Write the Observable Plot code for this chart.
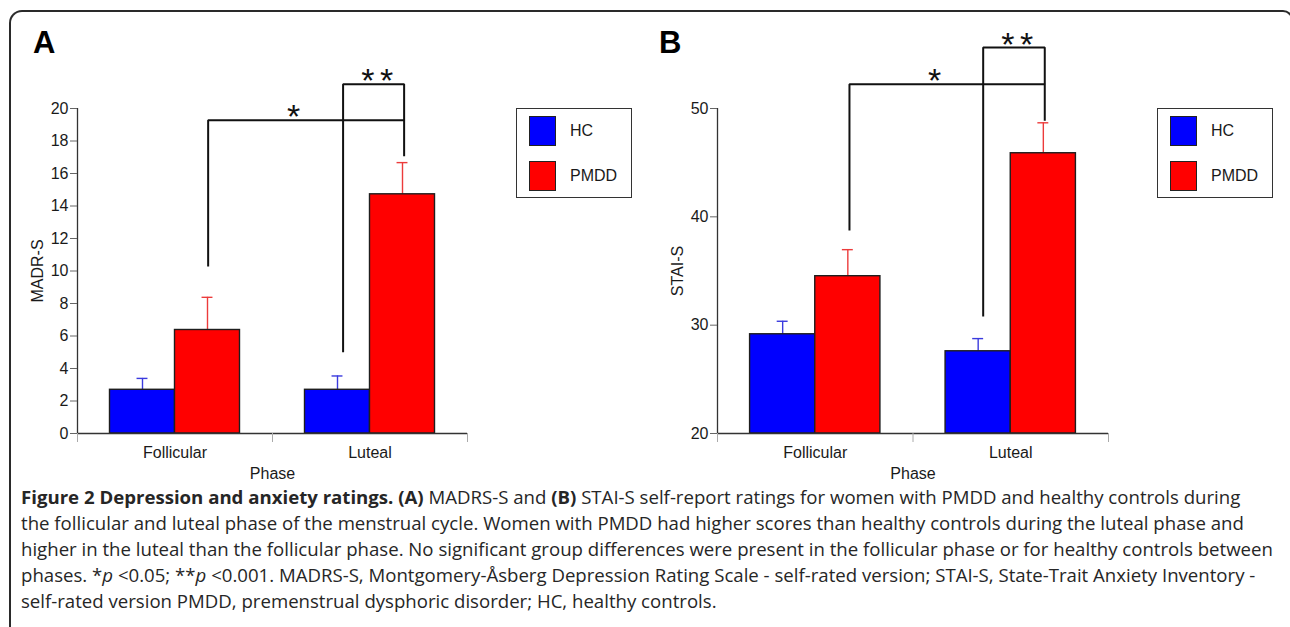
<!DOCTYPE html>
<html>
<head>
<meta charset="utf-8">
<script src="https://cdn.jsdelivr.net/npm/d3@7"></script>
<script src="https://cdn.jsdelivr.net/npm/@observablehq/plot@0.6"></script>
<style>
  html, body { margin: 0; padding: 0; background: #fff; }
  body { width: 1290px; height: 627px; overflow: hidden; position: relative; font-family: "Liberation Sans", Arial, sans-serif; color: #1a1a1a; }
  #frame { position: absolute; left: 9px; top: 10px; width: 1284px; height: 900px; border-left: 2px solid #2a2a2a; border-top: 2px solid #2a2a2a; border-right: 2px solid #2a2a2a; border-top-left-radius: 13px; border-top-right-radius: 10px; box-sizing: border-box; }
  .panel { position: absolute; top: 0; }
  .letter { position: absolute; font: bold 31px/1 "Liberation Sans", Arial, sans-serif; color: #000; }
  .legend { position: absolute; width: 116px; height: 90px; border: 1.5px solid #333; box-sizing: border-box; background: #fff; }
  .sw { position: absolute; width: 27px; height: 30px; border: 1.3px solid #222; box-sizing: border-box; }
  .lt { position: absolute; font: 16px/1 "Liberation Sans", Arial, sans-serif; color: #1a1a1a; }
  #caption { position: absolute; left: 21px; top: 484px; font-family: "Open Sans", sans-serif; font-size: 17px; line-height: 26px; color: #262626; white-space: nowrap; }
  #caption b { font-weight: 700; }
</style>
</head>
<body>
<div id="frame"></div>
<div class="letter" style="left:33px; top:27px;">A</div>
<div class="letter" style="left:659px; top:27px;">B</div>
<div id="panelA" class="panel" style="left:0px;"></div>
<div id="panelB" class="panel" style="left:640px;"></div>
<div id="legendA"></div>
<div id="legendB"></div>
<div id="caption"></div>
<script>
// ---------- data ----------
const phases = ["Follicular", "Luteal"];
const groups = ["HC", "PMDD"];
const groupColors = ["#0000ff", "#ff0000"];
const errColors = ["#3a3ade", "#ec3b3b"];

// Panel A: MADRS-S
const madrsHC = [2.69, 2.69];
const madrsHCErr = [0.70, 0.85];
const madrsPMDD = [6.37, 14.72];
const madrsPMDDErr = [2.01, 1.95];
const madrsTicks = [0, 2, 4, 6, 8, 10, 12, 14, 16, 18, 20];
const madrsDomain = [0, 20];
const madrsLabel = "MADR-S";
const madrsBrackets = [
  {x1: 0.17, x2: 1.175, y: 19.28, yLeft: 10.27, yRight: 17.06, label: "*", labelX: 0.608},
  {x1: 0.862, x2: 1.175, y: 21.5, yLeft: 5.0, yRight: 19.28, label: "**", labelX: 1.037}
];

// Panel B: STAI-S
const staiHC = [29.16, 27.59];
const staiHCErr = [1.20, 1.17];
const staiPMDD = [34.52, 45.87];
const staiPMDDErr = [2.45, 2.81];
const staiTicks = [20, 30, 40, 50];
const staiDomain = [20, 50];
const staiLabel = "STAI-S";
const staiBrackets = [
  {x1: 0.175, x2: 1.174, y: 52.23, yLeft: 38.75, yRight: 48.86, label: "*", labelX: 0.61},
  {x1: 0.859, x2: 1.174, y: 55.62, yLeft: 30.8, yRight: 52.23, label: "**", labelX: 1.033}
];

const xLabel = "Phase";

// ---------- chart builder ----------
const barW = 1 / 3;      // bar width in phase units
const capHalf = 0.028;   // error-bar cap half width in phase units

function rows(hc, hcErr, pm, pmErr) {
  const out = [];
  phases.forEach((p, i) => {
    out.push({phase: p, i, g: 0, value: hc[i], err: hcErr[i]});
    out.push({phase: p, i, g: 1, value: pm[i], err: pmErr[i]});
  });
  return out.map(d => ({...d,
    x1: d.g === 0 ? d.i - barW : d.i,
    x2: d.g === 0 ? d.i : d.i + barW,
    cx: d.g === 0 ? d.i - barW / 2 : d.i + barW / 2,
    top: d.value + d.err}));
}

function bracketPoints(brs) {
  const pts = [];
  brs.forEach((b, k) => {
    pts.push({x: b.x1, y: b.yLeft, k}, {x: b.x1, y: b.y, k}, {x: b.x2, y: b.y, k}, {x: b.x2, y: b.yRight, k});
  });
  return pts;
}

function chart({data, domain, ticks, ylabel, brackets, width, marginRight}) {
  const y0 = domain[0];
  return Plot.plot({
    width, height: 490,
    marginLeft: 77, marginRight, marginTop: 108, marginBottom: 57,
    style: {fontFamily: '"Liberation Sans", Arial, sans-serif', fontSize: "16px", color: "#1a1a1a", background: "transparent", overflow: "visible"},
    x: {type: "linear", domain: [-0.5, 1.5]},
    y: {type: "linear", domain},
    marks: [
      // error bars (drawn under bars so bars hide the lower part)
      Plot.ruleX(data, {x: "cx", y1: "value", y2: "top", stroke: d => errColors[d.g], strokeWidth: 1.4}),
      Plot.ruleY(data, {y: "top", x1: d => d.cx - capHalf, x2: d => d.cx + capHalf, stroke: d => errColors[d.g], strokeWidth: 1.4}),
      Plot.rectY(data, {x1: "x1", x2: "x2", y1: y0, y2: "value", fill: d => groupColors[d.g], stroke: "#1e1e1e", strokeWidth: 1.4}),
      // axis lines
      Plot.ruleX([-0.5], {y1: domain[0], y2: domain[1], stroke: "#333", strokeWidth: 1.3}),
      Plot.ruleY([y0], {x1: -0.5, x2: 1.5, stroke: "#333", strokeWidth: 1.6}),
      Plot.axisY({ticks, tickSize: 7, tickPadding: 2, fontSize: 16, label: null, stroke: "#666", fill: "#1a1a1a"}),
      Plot.axisX({ticks: [-0.5, 0.5, 1.5], tickSize: 9, tickFormat: () => "", label: null, stroke: "#aaa"}),
      Plot.axisX({ticks: [0, 1], tickSize: 0, tickPadding: 13, tickFormat: i => phases[i], fontSize: 16, label: null, fill: "#1a1a1a"}),
      Plot.text([ylabel], {frameAnchor: "left", textAnchor: "middle", dx: -40, rotate: -90, fontSize: 16, fill: "#1a1a1a"}),
      Plot.text([xLabel], {frameAnchor: "bottom", dy: 45, fontSize: 16, fill: "#1a1a1a"}),
      // significance brackets
      Plot.line(bracketPoints(brackets), {x: "x", y: "y", z: "k", stroke: "#111", strokeWidth: 2, strokeLinejoin: "miter", strokeLinecap: "butt"}),
      Plot.text(brackets, {x: "labelX", y: "y", text: d => d.label === "**" ? "*\u2006*" : "*", fontSize: 34, dy: -3, fill: "#111", fontFamily: '"Liberation Sans", Arial, sans-serif'})
    ]
  });
}

document.getElementById("panelA").appendChild(chart({
  data: rows(madrsHC, madrsHCErr, madrsPMDD, madrsPMDDErr),
  domain: madrsDomain, ticks: madrsTicks, ylabel: madrsLabel, brackets: madrsBrackets,
  width: 640, marginRight: 173
}));
document.getElementById("panelB").appendChild(chart({
  data: rows(staiHC, staiHCErr, staiPMDD, staiPMDDErr),
  domain: staiDomain, ticks: staiTicks, ylabel: staiLabel, brackets: staiBrackets,
  width: 650, marginRight: 182
}));

// ---------- legends ----------
function legend(el, left, top) {
  el.className = "legend";
  el.style.left = left + "px";
  el.style.top = top + "px";
  groups.forEach((g, k) => {
    const sw = document.createElement("div");
    sw.className = "sw";
    sw.style.left = "12px";
    sw.style.top = (6.5 + k * 45) + "px";
    sw.style.background = groupColors[k];
    el.appendChild(sw);
    const t = document.createElement("div");
    t.className = "lt";
    t.textContent = g;
    t.style.left = "53px";
    t.style.top = (14 + k * 45) + "px";
    el.appendChild(t);
  });
}
legend(document.getElementById("legendA"), 516, 108);
legend(document.getElementById("legendB"), 1157, 108);

// ---------- caption ----------
const captionLines = [
  '<b>Figure 2 Depression and anxiety ratings. (A)</b> MADRS-S and <b>(B)</b> STAI-S self-report ratings for women with PMDD and healthy controls during',
  'the follicular and luteal phase of the menstrual cycle. Women with PMDD had higher scores than healthy controls during the luteal phase and',
  'higher in the luteal than the follicular phase. No significant group differences were present in the follicular phase or for healthy controls between',
  'phases. *<i>p</i> &lt;0.05; **<i>p</i> &lt;0.001. MADRS-S, Montgomery-Åsberg Depression Rating Scale - self-rated version; STAI-S, State-Trait Anxiety Inventory -',
  'self-rated version PMDD, premenstrual dysphoric disorder; HC, healthy controls.'
];
const cap = document.getElementById("caption");
cap.innerHTML = captionLines.map(l => '<div><span>' + l + '</span></div>').join("");
// fit font size so the longest line spans the same width as in the figure
const probe = cap.querySelectorAll("span")[2];
const w = probe.getBoundingClientRect().width;
const fs = 17 * 1253 / w;
cap.style.fontSize = fs.toFixed(2) + "px";
</script>
</body>
</html>
